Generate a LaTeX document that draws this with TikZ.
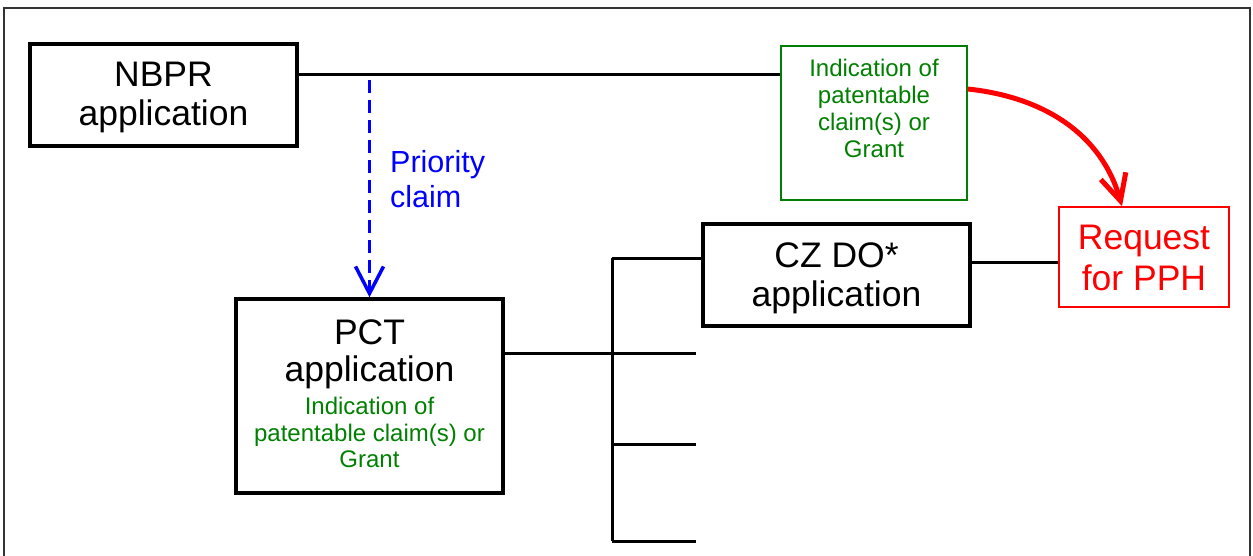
\documentclass[tikz,border=0pt]{standalone}
\usepackage{fontspec}
\setmainfont{Liberation Sans}
\usetikzlibrary{arrows.meta}
\definecolor{pgreen}{RGB}{0,128,0}
\definecolor{pblue}{RGB}{0,0,255}
\definecolor{pred}{RGB}{255,0,0}
\newcommand{\gtxt}{\color{pgreen}\fontsize{24}{27}\selectfont}
\tikzset{
  blackbox/.style={draw=black,line width=3.5pt,inner sep=0pt,align=center,font=\fontsize{35.5}{39}\selectfont,text depth=0pt},
  conn/.style={draw=black,line width=3pt},
}
\begin{document}
\begin{tikzpicture}[x=1pt,y=-1pt]
\useasboundingbox (0,0) rectangle (1253,556);
% outer frame
\draw[line width=1.5pt,black!80] (4,560) -- (4,8) -- (1250,8) -- (1250,560);
% boxes
\node[blackbox,minimum width=267pt,minimum height=102pt,text height=62pt] (nbpr) at (163.5,95) {NBPR\\application};
\node[draw=pgreen,line width=1.5pt,minimum width=186pt,minimum height=154pt] (greenbox) at (874,123) {};
\node[anchor=south,text=pgreen,align=center,font=\fontsize{24}{27}\selectfont,inner sep=0pt,text depth=0pt] (greentext) at (874,158) {Indication of\\patentable\\claim(s) or\\Grant};
\node[blackbox,minimum width=267pt,minimum height=194pt,text height=142pt,font=\fontsize{35.5}{38}\selectfont] (pct) at (369.5,396)
  {PCT\\[-1pt]application\\[-5pt]\gtxt Indication of\\[-11pt]\gtxt patentable claim(s) or\\[-12pt]\gtxt Grant};
\node[blackbox,minimum width=267pt,minimum height=102pt,text height=62pt] (cz) at (836.5,275) {CZ DO*\\application};
\node[draw=pred,line width=1.5pt,text=pred,inner sep=0pt,align=center,minimum width=170pt,minimum height=100pt,font=\fontsize{35.5}{40}\selectfont,text height=66pt,text depth=0pt] (req) at (1144,257) {Request\\for PPH};
\node[anchor=south west,text=pblue,align=left,inner sep=0pt,font=\fontsize{30.5}{35}\selectfont,text depth=0pt] (prio) at (390,208) {Priority\\claim};
% junction coordinates
\coordinate (bustop) at (612,258);
\coordinate (busmid) at (612,353);
\coordinate (bus3) at (612,444);
\coordinate (busbot) at (612,541);
\coordinate (end2) at (696,353);
\coordinate (end3) at (696,444);
\coordinate (end4) at (696,541);
% connectors
\draw[conn] (nbpr.east |- 0,75) -- (greenbox.west |- 0,75);
\draw[conn] (pct.east |- busmid) -- (busmid);
\draw[conn] (bustop) -- (busbot);
\draw[conn] (bustop) -- (cz.west |- bustop);
\draw[conn] (busmid) -- (end2);
\draw[conn] (bus3) -- (end3);
\draw[conn] (busbot) -- (end4);
\draw[conn] (cz.east |- 0,262) -- (req.west |- 0,262);
% priority claim arrow
\draw[pblue,line width=3.5pt,dash pattern=on 13pt off 7pt,-{Straight Barb[length=27pt,width=28pt,line width=3.5pt]}]
  (pct.north |- 0,80) -- (pct.north);
% red curved arrow
\draw[pred,line width=5pt,-{Straight Barb[length=26pt,width=26pt,line width=5pt]}]
  (greenbox.east |- 0,89) to[out=-6,in=106] (req.north -| 1122,0);
\end{tikzpicture}
\end{document}
